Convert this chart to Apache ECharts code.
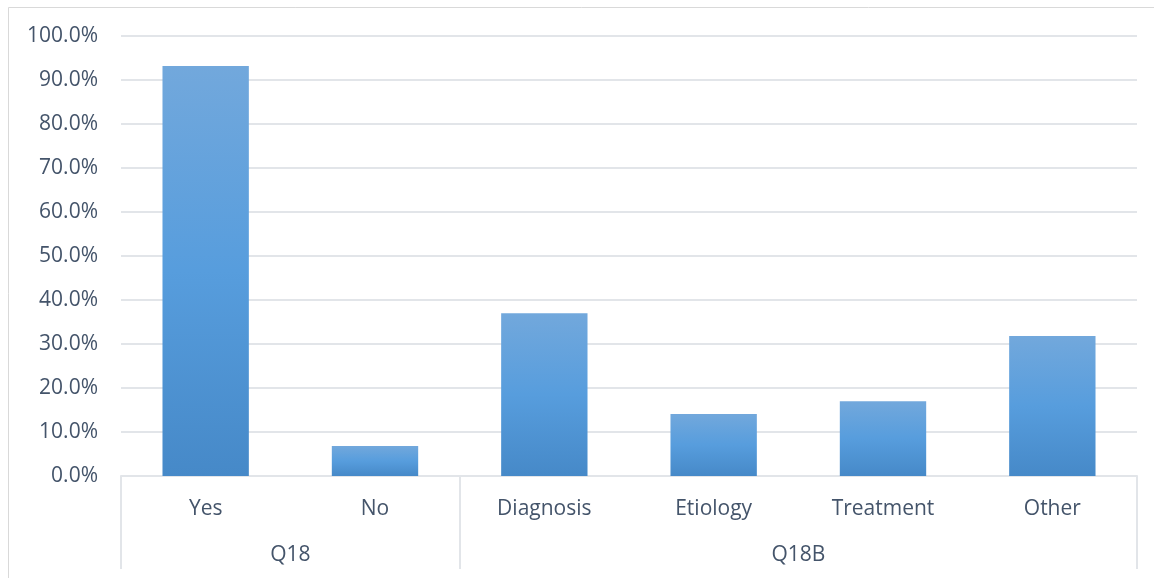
<!DOCTYPE html>
<html>
<head>
<meta charset="utf-8">
<script src="https://cdn.jsdelivr.net/npm/echarts@6/dist/echarts.min.js"></script>
<style>
  html, body { margin: 0; padding: 0; background: #ffffff; }
  #chart { width: 1154px; height: 578px; }
</style>
</head>
<body>
<div id="chart"></div>
<script>
// Answer categories and their share of respondents (%)
var categories = ['Yes', 'No', 'Diagnosis', 'Etiology', 'Treatment', 'Other'];
var values = [93.2, 6.8, 37.0, 14.1, 17.0, 31.8];

// Question groups: label, first category index, number of categories
var groupNames = ['Q18', 'Q18B'];
var groupStarts = [0, 2];
var groupSizes = [2, 4];

// Y axis ticks
var yMin = 0;
var yMax = 100;
var yStep = 10;

var textColor = '#44546A';
var lineColor = '#D9D9D9';
var gridColor = '#E2E5E9';
var fontFamily = '"Open Sans", "Noto Sans", sans-serif';
var fontSize = 21;

// Group centers and boundaries on a 0..N scale that lines up with the category bands
var groupCenters = groupStarts.map(function (s, i) { return s + groupSizes[i] / 2; });
var groupBounds = [0].concat(groupStarts.map(function (s, i) { return s + groupSizes[i]; }));

var chart = echarts.init(document.getElementById('chart'), null, { renderer: 'canvas' });

chart.setOption({
  backgroundColor: '#ffffff',
  animation: false,
  graphic: [{
    type: 'rect',
    shape: { x: 8.5, y: 7.5, width: 1160, height: 600 },
    style: { fill: 'none', stroke: lineColor, lineWidth: 1 },
    silent: true
  }],
  grid: { left: 121, right: 17, top: 36, bottom: 102, containLabel: false },
  xAxis: [{
    type: 'category',
    data: categories,
    position: 'bottom',
    axisLine: { show: true, lineStyle: { color: gridColor, width: 2 } },
    axisTick: { show: false },
    axisLabel: {
      color: textColor, fontFamily: fontFamily, fontSize: fontSize,
      margin: 23, interval: 0
    },
    splitLine: { show: false }
  }, {
    type: 'value',
    position: 'bottom',
    min: 0,
    max: categories.length,
    axisLine: { show: false },
    axisTick: {
      show: true, length: 93, inside: false,
      customValues: groupBounds,
      lineStyle: { color: gridColor, width: 2 }
    },
    axisLabel: {
      show: true,
      color: textColor, fontFamily: fontFamily, fontSize: fontSize,
      margin: 69,
      customValues: groupCenters,
      formatter: function (v) {
        var i = groupCenters.indexOf(v);
        return i >= 0 ? groupNames[i] : '';
      }
    },
    splitLine: { show: false }
  }],
  yAxis: {
    type: 'value',
    min: yMin,
    max: yMax,
    interval: yStep,
    axisLine: { show: false },
    axisTick: { show: false },
    axisLabel: {
      color: textColor, fontFamily: fontFamily, fontSize: fontSize, margin: 23,
      padding: [2, 0, 0, 0],
      formatter: function (v) { return v.toFixed(1) + '%'; }
    },
    splitLine: { show: true, lineStyle: { color: gridColor, width: 2 } }
  },
  series: [{
    type: 'bar',
    xAxisIndex: 0,
    data: values,
    barWidth: '51%',
    itemStyle: {
      color: new echarts.graphic.LinearGradient(0, 0, 0, 1, [
        { offset: 0, color: '#72A8DC' },
        { offset: 0.5, color: '#579DDD' },
        { offset: 1, color: '#4689C8' }
      ])
    },
    z: 2
  }]
});
</script>
</body>
</html>
